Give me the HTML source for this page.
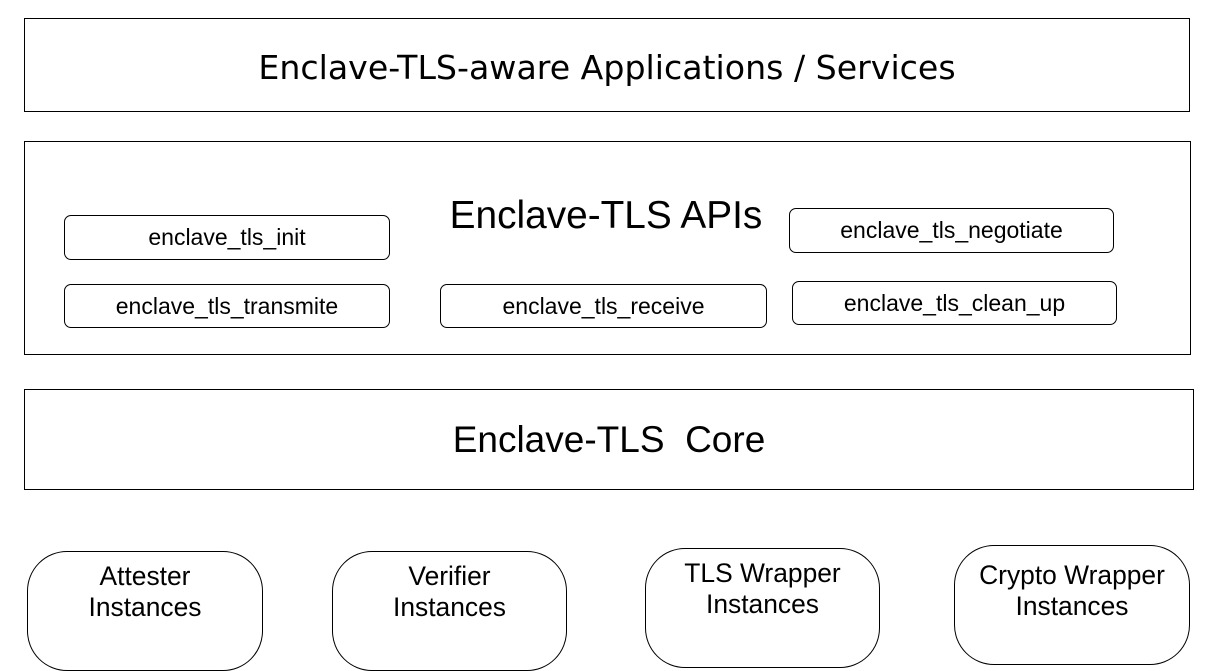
<!DOCTYPE html>
<html><head><style>
body{margin:0;width:1216px;height:632px;background:#fff;position:relative;overflow:hidden;font-family:"Liberation Sans",sans-serif;color:#000}
.b{position:absolute;border:1.5px solid #000;box-sizing:border-box;display:flex;align-items:center;justify-content:center;text-align:center}
.s{border-radius:7px;font-size:23px}
.r{border-radius:40px;font-size:26.4px;align-items:flex-start;padding-top:9px;line-height:31px}
.t{position:absolute;white-space:nowrap;transform:translate(-50%,-50%)}
</style></head><body>
<div class="b" style="left:24px;top:18px;width:1166px;height:94px;font-family:'DejaVu Sans',sans-serif;font-size:33.2px;padding-top:4px">Enclave-TLS-aware Applications / Services</div>
<div class="b" style="left:24px;top:141px;width:1167px;height:214px"></div>
<div class="t" style="left:606px;top:216px;font-size:38.8px">Enclave-TLS APIs</div>
<div class="b s" style="left:64px;top:215px;width:326px;height:45px">enclave_tls_init</div>
<div class="b s" style="left:789px;top:208px;width:325px;height:45px">enclave_tls_negotiate</div>
<div class="b s" style="left:64px;top:284px;width:326px;height:44px">enclave_tls_transmite</div>
<div class="b s" style="left:440px;top:284px;width:327px;height:44px">enclave_tls_receive</div>
<div class="b s" style="left:792px;top:281px;width:325px;height:44px">enclave_tls_clean_up</div>
<div class="b" style="left:24px;top:389px;width:1170px;height:101px;font-size:37px;white-space:pre">Enclave-TLS  Core</div>
<div class="b r" style="left:27px;top:551px;width:236px;height:120px">Attester<br>Instances</div>
<div class="b r" style="left:332px;top:551px;width:235px;height:120px">Verifier<br>Instances</div>
<div class="b r" style="left:645px;top:548px;width:235px;height:120px">TLS Wrapper<br>Instances</div>
<div class="b r" style="left:954px;top:545px;width:236px;height:120px;padding-top:14px">Crypto Wrapper<br>Instances</div>
</body></html>
